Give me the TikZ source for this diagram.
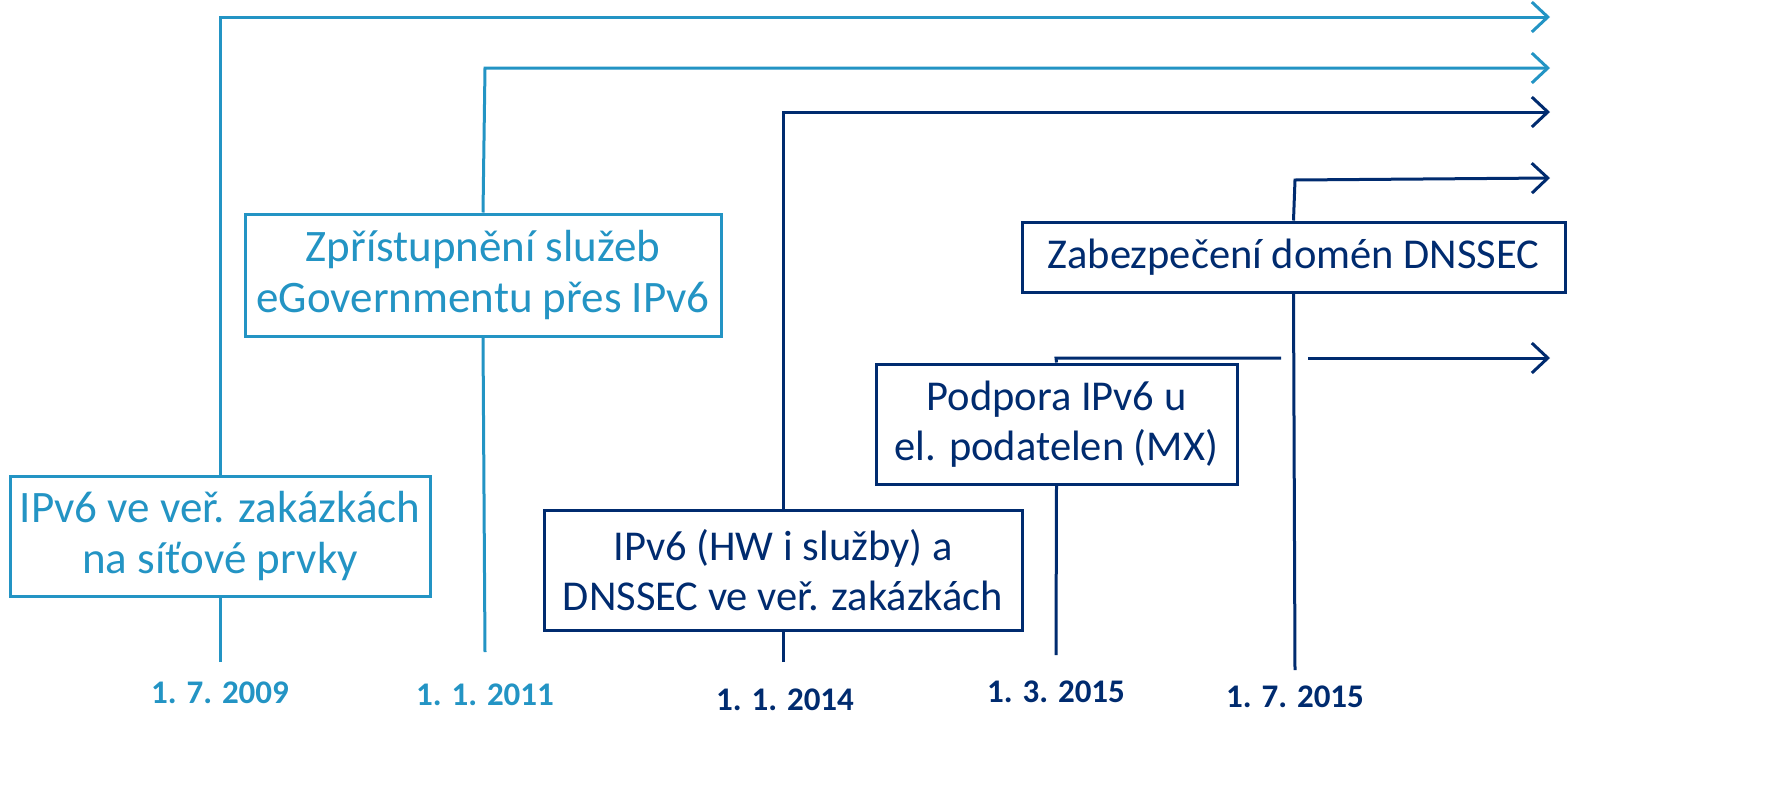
\documentclass[tikz,border=0pt]{standalone}
\usepackage{fontspec}
\setmainfont{Carlito}
\usetikzlibrary{arrows.meta}
\definecolor{lblue}{RGB}{35,148,196}
\definecolor{navy}{RGB}{0,43,111}
\begin{document}
\begin{tikzpicture}[x=1pt,y=-1pt,
  box/.style={draw=#1,text=#1,line width=3pt,fill=white,align=center,inner sep=0pt,
    font=\fontsize{45}{51}\selectfont},
  nbox/.style={box=navy,font=\fontsize{42.5}{50}\selectfont},
  datelabel/.style={text=#1,font=\bfseries\fontsize{33}{40}\selectfont,inner sep=0pt},
  conn/.style={draw=#1,line width=3pt,-{Straight Barb[length=16pt,width=30pt,line width=3pt]}},
  plain/.style={draw=#1,line width=3pt}]
\useasboundingbox (0,0) rectangle (1773,809);
% boxes
\node[box=lblue,minimum width=420pt,minimum height=120pt] (b1) at (220,536) {IPv6 ve veř. zakázkách\\na síťové prvky};
\node[box=lblue,minimum width=476pt,minimum height=122pt] (b2) at (483,275) {Zpřístupnění služeb\\eGovernmentu přes IPv6};
\node[nbox,minimum width=478pt,minimum height=120pt] (b3) at (783,570) {IPv6 (HW i služby) a\\DNSSEC ve veř. zakázkách};
\node[nbox,minimum width=361pt,minimum height=120pt] (b4) at (1056.5,424) {Podpora IPv6 u\\el. podatelen (MX)};
\node[nbox,minimum width=543pt,minimum height=70pt] (b5) at (1293.5,257) {Zabezpečení domén DNSSEC};
% dates
\node[datelabel=lblue] (d1) at (220,693) {1. 7. 2009};
\node[datelabel=lblue] (d2) at (485,695) {1. 1. 2011};
\node[datelabel=navy] (d3) at (785,700) {1. 1. 2014};
\node[datelabel=navy] (d4) at (1056,692) {1. 3. 2015};
\node[datelabel=navy] (d5) at (1295,697) {1. 7. 2015};
% coordinates
\coordinate (s1) at (220,662); \coordinate (c1) at (220,17); \coordinate (e1) at (1550,17);
\coordinate (s2) at (485,652); \coordinate (c2) at (485,68); \coordinate (e2) at (1550,68);
\coordinate (s3) at (783,662); \coordinate (c3) at (783,112); \coordinate (e3) at (1550,112);
\coordinate (s4) at (1056,655); \coordinate (c4) at (1056,358); \coordinate (g4a) at (1281,358); \coordinate (g4b) at (1308,358); \coordinate (e4) at (1550,358);
\coordinate (s5) at (1295,670); \coordinate (c5) at (1295,180); \coordinate (e5) at (1550,178);
% connectors
\draw[plain=lblue] (s1) -- (b1.south);
\draw[conn=lblue] (b1.north) -- (c1) -- (e1);
\draw[plain=lblue] (s2) -- (b2.south);
\draw[conn=lblue] (b2.north) -- (c2) -- (e2);
\draw[plain=navy] (s3) -- (b3.south);
\draw[conn=navy] (b3.north) -- (c3) -- (e3);
\draw[plain=navy] (s4) -- (b4.south);
\draw[plain=navy] (b4.north) -- (c4) -- (g4a);
\draw[conn=navy] (g4b) -- (e4);
\draw[plain=navy] (s5) -- (b5.south);
\draw[conn=navy] (b5.north) -- (c5) -- (e5);
\end{tikzpicture}
\end{document}
